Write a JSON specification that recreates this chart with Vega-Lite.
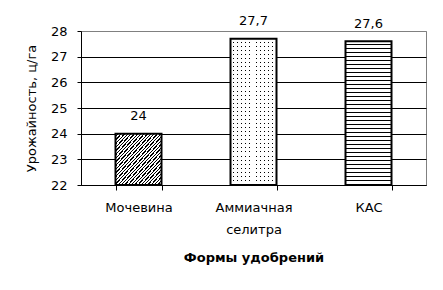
{
  "$schema": "https://vega.github.io/schema/vega-lite/v6.json",
  "width": 345,
  "height": 154,
  "autosize": {"type": "none"},
  "padding": {"left": 81, "top": 31, "right": 17, "bottom": 105},
  "background": "white",
  "config": {
    "font": "DejaVu Sans",
    "view": {"stroke": "#808080", "strokeWidth": 1},
    "locale": {"number": {"decimal": ",", "thousands": " ", "grouping": [3], "currency": ["", ""]}}
  },
  "data": {
    "values": [
      {"form": "Мочевина", "yield": 24},
      {"form": "Аммиачная селитра", "yield": 27.7},
      {"form": "КАС", "yield": 27.6}
    ]
  },
  "encoding": {
    "x": {
      "field": "form",
      "type": "nominal",
      "sort": ["Мочевина", "Аммиачная селитра", "КАС"],
      "scale": {"paddingInner": 0.6, "paddingOuter": 0.3},
      "axis": {
        "title": "Формы удобрений",
        "titleFontSize": 13,
        "titleFontWeight": "bold",
        "titleColor": "black",
        "titlePadding": 15,
        "labelAngle": 0,
        "labelFontSize": 13,
        "labelColor": "black",
        "labelPadding": 11,
        "labelLineHeight": 22,
        "labelExpr": "datum.value == 'Аммиачная селитра' ? ['Аммиачная', 'селитра'] : datum.value",
        "domainColor": "black",
        "tickColor": "black",
        "tickSize": 5,
        "tickBand": "extent",
        "grid": false
      }
    },
    "y": {
      "field": "yield",
      "type": "quantitative",
      "scale": {"domain": [22, 28], "zero": false, "nice": false},
      "axis": {
        "title": "Урожайность, ц/га",
        "titleFontSize": 13,
        "titleFontWeight": "normal",
        "titleColor": "black",
        "titlePadding": 12,
        "values": [22, 23, 24, 25, 26, 27, 28],
        "labelFontSize": 13,
        "labelColor": "black",
        "labelPadding": 10,
        "domainColor": "black",
        "tickColor": "black",
        "tickSize": 4,
        "grid": true,
        "gridColor": {"condition": {"test": "datum.value == 28", "value": "#808080"}, "value": "black"},
        "gridOpacity": 1
      }
    }
  },
  "layer": [
    {
      "transform": [{"filter": "datum.form === 'Мочевина'"}],
      "mark": {
        "type": "bar",
        "stroke": "black",
        "strokeWidth": 2,
        "fill": {
          "gradient": "linear", "x1": 0, "y1": 0, "x2": 1, "y2": 1,
          "stops": [
            {"offset": 0, "color": "white"}, {"offset": 0.0214, "color": "white"}, {"offset": 0.0214, "color": "black"},
            {"offset": 0.0357, "color": "black"}, {"offset": 0.0357, "color": "white"}, {"offset": 0.0571, "color": "white"}, {"offset": 0.0571, "color": "black"},
            {"offset": 0.0714, "color": "black"}, {"offset": 0.0714, "color": "white"}, {"offset": 0.0929, "color": "white"}, {"offset": 0.0929, "color": "black"},
            {"offset": 0.1071, "color": "black"}, {"offset": 0.1071, "color": "white"}, {"offset": 0.1286, "color": "white"}, {"offset": 0.1286, "color": "black"},
            {"offset": 0.1429, "color": "black"}, {"offset": 0.1429, "color": "white"}, {"offset": 0.1643, "color": "white"}, {"offset": 0.1643, "color": "black"},
            {"offset": 0.1786, "color": "black"}, {"offset": 0.1786, "color": "white"}, {"offset": 0.2, "color": "white"}, {"offset": 0.2, "color": "black"},
            {"offset": 0.2143, "color": "black"}, {"offset": 0.2143, "color": "white"}, {"offset": 0.2357, "color": "white"}, {"offset": 0.2357, "color": "black"},
            {"offset": 0.25, "color": "black"}, {"offset": 0.25, "color": "white"}, {"offset": 0.2714, "color": "white"}, {"offset": 0.2714, "color": "black"},
            {"offset": 0.2857, "color": "black"}, {"offset": 0.2857, "color": "white"}, {"offset": 0.3071, "color": "white"}, {"offset": 0.3071, "color": "black"},
            {"offset": 0.3214, "color": "black"}, {"offset": 0.3214, "color": "white"}, {"offset": 0.3429, "color": "white"}, {"offset": 0.3429, "color": "black"},
            {"offset": 0.3571, "color": "black"}, {"offset": 0.3571, "color": "white"}, {"offset": 0.3786, "color": "white"}, {"offset": 0.3786, "color": "black"},
            {"offset": 0.3929, "color": "black"}, {"offset": 0.3929, "color": "white"}, {"offset": 0.4143, "color": "white"}, {"offset": 0.4143, "color": "black"},
            {"offset": 0.4286, "color": "black"}, {"offset": 0.4286, "color": "white"}, {"offset": 0.45, "color": "white"}, {"offset": 0.45, "color": "black"},
            {"offset": 0.4643, "color": "black"}, {"offset": 0.4643, "color": "white"}, {"offset": 0.4857, "color": "white"}, {"offset": 0.4857, "color": "black"},
            {"offset": 0.5, "color": "black"}, {"offset": 0.5, "color": "white"}, {"offset": 0.5214, "color": "white"}, {"offset": 0.5214, "color": "black"},
            {"offset": 0.5357, "color": "black"}, {"offset": 0.5357, "color": "white"}, {"offset": 0.5571, "color": "white"}, {"offset": 0.5571, "color": "black"},
            {"offset": 0.5714, "color": "black"}, {"offset": 0.5714, "color": "white"}, {"offset": 0.5929, "color": "white"}, {"offset": 0.5929, "color": "black"},
            {"offset": 0.6071, "color": "black"}, {"offset": 0.6071, "color": "white"}, {"offset": 0.6286, "color": "white"}, {"offset": 0.6286, "color": "black"},
            {"offset": 0.6429, "color": "black"}, {"offset": 0.6429, "color": "white"}, {"offset": 0.6643, "color": "white"}, {"offset": 0.6643, "color": "black"},
            {"offset": 0.6786, "color": "black"}, {"offset": 0.6786, "color": "white"}, {"offset": 0.7, "color": "white"}, {"offset": 0.7, "color": "black"},
            {"offset": 0.7143, "color": "black"}, {"offset": 0.7143, "color": "white"}, {"offset": 0.7357, "color": "white"}, {"offset": 0.7357, "color": "black"},
            {"offset": 0.75, "color": "black"}, {"offset": 0.75, "color": "white"}, {"offset": 0.7714, "color": "white"}, {"offset": 0.7714, "color": "black"},
            {"offset": 0.7857, "color": "black"}, {"offset": 0.7857, "color": "white"}, {"offset": 0.8071, "color": "white"}, {"offset": 0.8071, "color": "black"},
            {"offset": 0.8214, "color": "black"}, {"offset": 0.8214, "color": "white"}, {"offset": 0.8429, "color": "white"}, {"offset": 0.8429, "color": "black"},
            {"offset": 0.8571, "color": "black"}, {"offset": 0.8571, "color": "white"}, {"offset": 0.8786, "color": "white"}, {"offset": 0.8786, "color": "black"},
            {"offset": 0.8929, "color": "black"}, {"offset": 0.8929, "color": "white"}, {"offset": 0.9143, "color": "white"}, {"offset": 0.9143, "color": "black"},
            {"offset": 0.9286, "color": "black"}, {"offset": 0.9286, "color": "white"}, {"offset": 0.95, "color": "white"}, {"offset": 0.95, "color": "black"},
            {"offset": 0.9643, "color": "black"}, {"offset": 0.9643, "color": "white"}, {"offset": 0.9857, "color": "white"}, {"offset": 0.9857, "color": "black"},
            {"offset": 1, "color": "black"}
          ]
        }
      },
      "encoding": {"y2": {"datum": 22}}
    },
    {
      "transform": [{"filter": "datum.form === 'Аммиачная селитра'"}],
      "mark": {
        "type": "bar",
        "fill": {
          "gradient": "linear", "x1": 0, "y1": 0, "x2": 0, "y2": 1,
          "stops": [
            {"offset": 0, "color": "white"}, {"offset": 0.0208, "color": "white"}, {"offset": 0.0208, "color": "black"},
            {"offset": 0.0278, "color": "black"}, {"offset": 0.0278, "color": "white"}, {"offset": 0.0486, "color": "white"}, {"offset": 0.0486, "color": "black"},
            {"offset": 0.0556, "color": "black"}, {"offset": 0.0556, "color": "white"}, {"offset": 0.0764, "color": "white"}, {"offset": 0.0764, "color": "black"},
            {"offset": 0.0833, "color": "black"}, {"offset": 0.0833, "color": "white"}, {"offset": 0.1042, "color": "white"}, {"offset": 0.1042, "color": "black"},
            {"offset": 0.1111, "color": "black"}, {"offset": 0.1111, "color": "white"}, {"offset": 0.1319, "color": "white"}, {"offset": 0.1319, "color": "black"},
            {"offset": 0.1389, "color": "black"}, {"offset": 0.1389, "color": "white"}, {"offset": 0.1597, "color": "white"}, {"offset": 0.1597, "color": "black"},
            {"offset": 0.1667, "color": "black"}, {"offset": 0.1667, "color": "white"}, {"offset": 0.1875, "color": "white"}, {"offset": 0.1875, "color": "black"},
            {"offset": 0.1944, "color": "black"}, {"offset": 0.1944, "color": "white"}, {"offset": 0.2153, "color": "white"}, {"offset": 0.2153, "color": "black"},
            {"offset": 0.2222, "color": "black"}, {"offset": 0.2222, "color": "white"}, {"offset": 0.2431, "color": "white"}, {"offset": 0.2431, "color": "black"},
            {"offset": 0.25, "color": "black"}, {"offset": 0.25, "color": "white"}, {"offset": 0.2708, "color": "white"}, {"offset": 0.2708, "color": "black"},
            {"offset": 0.2778, "color": "black"}, {"offset": 0.2778, "color": "white"}, {"offset": 0.2986, "color": "white"}, {"offset": 0.2986, "color": "black"},
            {"offset": 0.3056, "color": "black"}, {"offset": 0.3056, "color": "white"}, {"offset": 0.3264, "color": "white"}, {"offset": 0.3264, "color": "black"},
            {"offset": 0.3333, "color": "black"}, {"offset": 0.3333, "color": "white"}, {"offset": 0.3542, "color": "white"}, {"offset": 0.3542, "color": "black"},
            {"offset": 0.3611, "color": "black"}, {"offset": 0.3611, "color": "white"}, {"offset": 0.3819, "color": "white"}, {"offset": 0.3819, "color": "black"},
            {"offset": 0.3889, "color": "black"}, {"offset": 0.3889, "color": "white"}, {"offset": 0.4097, "color": "white"}, {"offset": 0.4097, "color": "black"},
            {"offset": 0.4167, "color": "black"}, {"offset": 0.4167, "color": "white"}, {"offset": 0.4375, "color": "white"}, {"offset": 0.4375, "color": "black"},
            {"offset": 0.4444, "color": "black"}, {"offset": 0.4444, "color": "white"}, {"offset": 0.4653, "color": "white"}, {"offset": 0.4653, "color": "black"},
            {"offset": 0.4722, "color": "black"}, {"offset": 0.4722, "color": "white"}, {"offset": 0.4931, "color": "white"}, {"offset": 0.4931, "color": "black"},
            {"offset": 0.5, "color": "black"}, {"offset": 0.5, "color": "white"}, {"offset": 0.5208, "color": "white"}, {"offset": 0.5208, "color": "black"},
            {"offset": 0.5278, "color": "black"}, {"offset": 0.5278, "color": "white"}, {"offset": 0.5486, "color": "white"}, {"offset": 0.5486, "color": "black"},
            {"offset": 0.5556, "color": "black"}, {"offset": 0.5556, "color": "white"}, {"offset": 0.5764, "color": "white"}, {"offset": 0.5764, "color": "black"},
            {"offset": 0.5833, "color": "black"}, {"offset": 0.5833, "color": "white"}, {"offset": 0.6042, "color": "white"}, {"offset": 0.6042, "color": "black"},
            {"offset": 0.6111, "color": "black"}, {"offset": 0.6111, "color": "white"}, {"offset": 0.6319, "color": "white"}, {"offset": 0.6319, "color": "black"},
            {"offset": 0.6389, "color": "black"}, {"offset": 0.6389, "color": "white"}, {"offset": 0.6597, "color": "white"}, {"offset": 0.6597, "color": "black"},
            {"offset": 0.6667, "color": "black"}, {"offset": 0.6667, "color": "white"}, {"offset": 0.6875, "color": "white"}, {"offset": 0.6875, "color": "black"},
            {"offset": 0.6944, "color": "black"}, {"offset": 0.6944, "color": "white"}, {"offset": 0.7153, "color": "white"}, {"offset": 0.7153, "color": "black"},
            {"offset": 0.7222, "color": "black"}, {"offset": 0.7222, "color": "white"}, {"offset": 0.7431, "color": "white"}, {"offset": 0.7431, "color": "black"},
            {"offset": 0.75, "color": "black"}, {"offset": 0.75, "color": "white"}, {"offset": 0.7708, "color": "white"}, {"offset": 0.7708, "color": "black"},
            {"offset": 0.7778, "color": "black"}, {"offset": 0.7778, "color": "white"}, {"offset": 0.7986, "color": "white"}, {"offset": 0.7986, "color": "black"},
            {"offset": 0.8056, "color": "black"}, {"offset": 0.8056, "color": "white"}, {"offset": 0.8264, "color": "white"}, {"offset": 0.8264, "color": "black"},
            {"offset": 0.8333, "color": "black"}, {"offset": 0.8333, "color": "white"}, {"offset": 0.8542, "color": "white"}, {"offset": 0.8542, "color": "black"},
            {"offset": 0.8611, "color": "black"}, {"offset": 0.8611, "color": "white"}, {"offset": 0.8819, "color": "white"}, {"offset": 0.8819, "color": "black"},
            {"offset": 0.8889, "color": "black"}, {"offset": 0.8889, "color": "white"}, {"offset": 0.9097, "color": "white"}, {"offset": 0.9097, "color": "black"},
            {"offset": 0.9167, "color": "black"}, {"offset": 0.9167, "color": "white"}, {"offset": 0.9375, "color": "white"}, {"offset": 0.9375, "color": "black"},
            {"offset": 0.9444, "color": "black"}, {"offset": 0.9444, "color": "white"}, {"offset": 0.9653, "color": "white"}, {"offset": 0.9653, "color": "black"},
            {"offset": 0.9722, "color": "black"}, {"offset": 0.9722, "color": "white"}, {"offset": 0.9931, "color": "white"}, {"offset": 0.9931, "color": "black"},
            {"offset": 1, "color": "black"}
          ]
        }
      },
      "encoding": {"y2": {"datum": 22}}
    },
    {
      "transform": [{"filter": "datum.form === 'Аммиачная селитра'"}],
      "mark": {
        "type": "bar",
        "stroke": "black",
        "strokeWidth": 2,
        "fill": {
          "gradient": "linear", "x1": 0, "y1": 0, "x2": 1, "y2": 0,
          "stops": [
            {"offset": 0, "color": "white"}, {"offset": 0.0625, "color": "white"}, {"offset": 0.0625, "color": "rgba(255,255,255,0)"},
            {"offset": 0.0833, "color": "rgba(255,255,255,0)"}, {"offset": 0.0833, "color": "white"}, {"offset": 0.1458, "color": "white"}, {"offset": 0.1458, "color": "rgba(255,255,255,0)"},
            {"offset": 0.1667, "color": "rgba(255,255,255,0)"}, {"offset": 0.1667, "color": "white"}, {"offset": 0.2292, "color": "white"}, {"offset": 0.2292, "color": "rgba(255,255,255,0)"},
            {"offset": 0.25, "color": "rgba(255,255,255,0)"}, {"offset": 0.25, "color": "white"}, {"offset": 0.3125, "color": "white"}, {"offset": 0.3125, "color": "rgba(255,255,255,0)"},
            {"offset": 0.3333, "color": "rgba(255,255,255,0)"}, {"offset": 0.3333, "color": "white"}, {"offset": 0.3958, "color": "white"}, {"offset": 0.3958, "color": "rgba(255,255,255,0)"},
            {"offset": 0.4167, "color": "rgba(255,255,255,0)"}, {"offset": 0.4167, "color": "white"}, {"offset": 0.4792, "color": "white"}, {"offset": 0.4792, "color": "rgba(255,255,255,0)"},
            {"offset": 0.5, "color": "rgba(255,255,255,0)"}, {"offset": 0.5, "color": "white"}, {"offset": 0.5625, "color": "white"}, {"offset": 0.5625, "color": "rgba(255,255,255,0)"},
            {"offset": 0.5833, "color": "rgba(255,255,255,0)"}, {"offset": 0.5833, "color": "white"}, {"offset": 0.6458, "color": "white"}, {"offset": 0.6458, "color": "rgba(255,255,255,0)"},
            {"offset": 0.6667, "color": "rgba(255,255,255,0)"}, {"offset": 0.6667, "color": "white"}, {"offset": 0.7292, "color": "white"}, {"offset": 0.7292, "color": "rgba(255,255,255,0)"},
            {"offset": 0.75, "color": "rgba(255,255,255,0)"}, {"offset": 0.75, "color": "white"}, {"offset": 0.8125, "color": "white"}, {"offset": 0.8125, "color": "rgba(255,255,255,0)"},
            {"offset": 0.8333, "color": "rgba(255,255,255,0)"}, {"offset": 0.8333, "color": "white"}, {"offset": 0.8958, "color": "white"}, {"offset": 0.8958, "color": "rgba(255,255,255,0)"},
            {"offset": 0.9167, "color": "rgba(255,255,255,0)"}, {"offset": 0.9167, "color": "white"}, {"offset": 0.9792, "color": "white"}, {"offset": 0.9792, "color": "rgba(255,255,255,0)"},
            {"offset": 1, "color": "rgba(255,255,255,0)"}
          ]
        }
      },
      "encoding": {"y2": {"datum": 22}}
    },
    {
      "transform": [{"filter": "datum.form === 'КАС'"}],
      "mark": {
        "type": "bar",
        "stroke": "black",
        "strokeWidth": 2,
        "fill": {
          "gradient": "linear", "x1": 0, "y1": 0, "x2": 0, "y2": 1,
          "stops": [
            {"offset": 0, "color": "white"}, {"offset": 0.0208, "color": "white"}, {"offset": 0.0208, "color": "black"},
            {"offset": 0.0278, "color": "black"}, {"offset": 0.0278, "color": "white"}, {"offset": 0.0486, "color": "white"}, {"offset": 0.0486, "color": "black"},
            {"offset": 0.0556, "color": "black"}, {"offset": 0.0556, "color": "white"}, {"offset": 0.0764, "color": "white"}, {"offset": 0.0764, "color": "black"},
            {"offset": 0.0833, "color": "black"}, {"offset": 0.0833, "color": "white"}, {"offset": 0.1042, "color": "white"}, {"offset": 0.1042, "color": "black"},
            {"offset": 0.1111, "color": "black"}, {"offset": 0.1111, "color": "white"}, {"offset": 0.1319, "color": "white"}, {"offset": 0.1319, "color": "black"},
            {"offset": 0.1389, "color": "black"}, {"offset": 0.1389, "color": "white"}, {"offset": 0.1597, "color": "white"}, {"offset": 0.1597, "color": "black"},
            {"offset": 0.1667, "color": "black"}, {"offset": 0.1667, "color": "white"}, {"offset": 0.1875, "color": "white"}, {"offset": 0.1875, "color": "black"},
            {"offset": 0.1944, "color": "black"}, {"offset": 0.1944, "color": "white"}, {"offset": 0.2153, "color": "white"}, {"offset": 0.2153, "color": "black"},
            {"offset": 0.2222, "color": "black"}, {"offset": 0.2222, "color": "white"}, {"offset": 0.2431, "color": "white"}, {"offset": 0.2431, "color": "black"},
            {"offset": 0.25, "color": "black"}, {"offset": 0.25, "color": "white"}, {"offset": 0.2708, "color": "white"}, {"offset": 0.2708, "color": "black"},
            {"offset": 0.2778, "color": "black"}, {"offset": 0.2778, "color": "white"}, {"offset": 0.2986, "color": "white"}, {"offset": 0.2986, "color": "black"},
            {"offset": 0.3056, "color": "black"}, {"offset": 0.3056, "color": "white"}, {"offset": 0.3264, "color": "white"}, {"offset": 0.3264, "color": "black"},
            {"offset": 0.3333, "color": "black"}, {"offset": 0.3333, "color": "white"}, {"offset": 0.3542, "color": "white"}, {"offset": 0.3542, "color": "black"},
            {"offset": 0.3611, "color": "black"}, {"offset": 0.3611, "color": "white"}, {"offset": 0.3819, "color": "white"}, {"offset": 0.3819, "color": "black"},
            {"offset": 0.3889, "color": "black"}, {"offset": 0.3889, "color": "white"}, {"offset": 0.4097, "color": "white"}, {"offset": 0.4097, "color": "black"},
            {"offset": 0.4167, "color": "black"}, {"offset": 0.4167, "color": "white"}, {"offset": 0.4375, "color": "white"}, {"offset": 0.4375, "color": "black"},
            {"offset": 0.4444, "color": "black"}, {"offset": 0.4444, "color": "white"}, {"offset": 0.4653, "color": "white"}, {"offset": 0.4653, "color": "black"},
            {"offset": 0.4722, "color": "black"}, {"offset": 0.4722, "color": "white"}, {"offset": 0.4931, "color": "white"}, {"offset": 0.4931, "color": "black"},
            {"offset": 0.5, "color": "black"}, {"offset": 0.5, "color": "white"}, {"offset": 0.5208, "color": "white"}, {"offset": 0.5208, "color": "black"},
            {"offset": 0.5278, "color": "black"}, {"offset": 0.5278, "color": "white"}, {"offset": 0.5486, "color": "white"}, {"offset": 0.5486, "color": "black"},
            {"offset": 0.5556, "color": "black"}, {"offset": 0.5556, "color": "white"}, {"offset": 0.5764, "color": "white"}, {"offset": 0.5764, "color": "black"},
            {"offset": 0.5833, "color": "black"}, {"offset": 0.5833, "color": "white"}, {"offset": 0.6042, "color": "white"}, {"offset": 0.6042, "color": "black"},
            {"offset": 0.6111, "color": "black"}, {"offset": 0.6111, "color": "white"}, {"offset": 0.6319, "color": "white"}, {"offset": 0.6319, "color": "black"},
            {"offset": 0.6389, "color": "black"}, {"offset": 0.6389, "color": "white"}, {"offset": 0.6597, "color": "white"}, {"offset": 0.6597, "color": "black"},
            {"offset": 0.6667, "color": "black"}, {"offset": 0.6667, "color": "white"}, {"offset": 0.6875, "color": "white"}, {"offset": 0.6875, "color": "black"},
            {"offset": 0.6944, "color": "black"}, {"offset": 0.6944, "color": "white"}, {"offset": 0.7153, "color": "white"}, {"offset": 0.7153, "color": "black"},
            {"offset": 0.7222, "color": "black"}, {"offset": 0.7222, "color": "white"}, {"offset": 0.7431, "color": "white"}, {"offset": 0.7431, "color": "black"},
            {"offset": 0.75, "color": "black"}, {"offset": 0.75, "color": "white"}, {"offset": 0.7708, "color": "white"}, {"offset": 0.7708, "color": "black"},
            {"offset": 0.7778, "color": "black"}, {"offset": 0.7778, "color": "white"}, {"offset": 0.7986, "color": "white"}, {"offset": 0.7986, "color": "black"},
            {"offset": 0.8056, "color": "black"}, {"offset": 0.8056, "color": "white"}, {"offset": 0.8264, "color": "white"}, {"offset": 0.8264, "color": "black"},
            {"offset": 0.8333, "color": "black"}, {"offset": 0.8333, "color": "white"}, {"offset": 0.8542, "color": "white"}, {"offset": 0.8542, "color": "black"},
            {"offset": 0.8611, "color": "black"}, {"offset": 0.8611, "color": "white"}, {"offset": 0.8819, "color": "white"}, {"offset": 0.8819, "color": "black"},
            {"offset": 0.8889, "color": "black"}, {"offset": 0.8889, "color": "white"}, {"offset": 0.9097, "color": "white"}, {"offset": 0.9097, "color": "black"},
            {"offset": 0.9167, "color": "black"}, {"offset": 0.9167, "color": "white"}, {"offset": 0.9375, "color": "white"}, {"offset": 0.9375, "color": "black"},
            {"offset": 0.9444, "color": "black"}, {"offset": 0.9444, "color": "white"}, {"offset": 0.9653, "color": "white"}, {"offset": 0.9653, "color": "black"},
            {"offset": 0.9722, "color": "black"}, {"offset": 0.9722, "color": "white"}, {"offset": 0.9931, "color": "white"}, {"offset": 0.9931, "color": "black"},
            {"offset": 1, "color": "black"}
          ]
        }
      },
      "encoding": {"y2": {"datum": 22}}
    },
    {
      "mark": {"type": "text", "fontSize": 13, "color": "black", "baseline": "alphabetic", "dy": -13.5},
      "encoding": {
        "text": {"field": "yield", "type": "quantitative", "format": ".1~f"}
      }
    }
  ]
}
